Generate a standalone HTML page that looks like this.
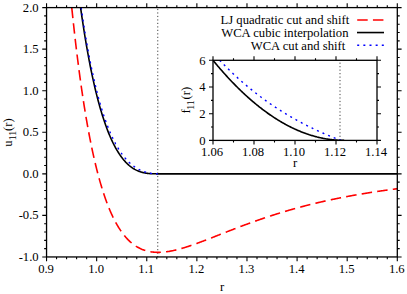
<!DOCTYPE html>
<html><head><meta charset="utf-8"><title>plot</title><style>html,body{margin:0;padding:0;background:#fff}svg{display:block}</style></head><body>
<svg width="407" height="294" viewBox="0 0 407 294">
<defs><clipPath id="cm"><rect x="46.55" y="7.60" width="350.75" height="249.35"/></clipPath>
<clipPath id="ci"><rect x="213.00" y="60.30" width="164.00" height="80.10"/></clipPath></defs>
<rect width="407" height="294" fill="#fff"/>
<g clip-path="url(#cm)" fill="none">
<line x1="157.75" y1="8.9" x2="157.75" y2="256.95" stroke="#444" stroke-width="1" stroke-dasharray="1.2 2.28"/>
<path d="M71.76,7.60 L72.10,10.89 L72.61,15.68 L73.11,20.39 L73.61,25.02 L74.11,29.57 L74.61,34.03 L75.11,38.42 L75.61,42.74 L76.11,46.98 L76.61,51.14 L77.12,55.24 L77.62,59.26 L78.12,63.21 L78.62,67.09 L79.12,70.91 L79.62,74.66 L80.12,78.34 L80.62,81.96 L81.12,85.51 L81.62,89.00 L82.13,92.43 L82.63,95.80 L83.13,99.11 L83.63,102.36 L84.13,105.55 L84.63,108.69 L85.13,111.77 L85.63,114.79 L86.13,117.76 L86.64,120.68 L87.14,123.55 L87.64,126.36 L88.14,129.12 L88.64,131.84 L89.14,134.50 L89.64,137.12 L90.14,139.68 L90.64,142.21 L91.15,144.68 L91.65,147.11 L92.15,149.50 L92.65,151.84 L93.15,154.14 L93.65,156.39 L94.15,158.61 L94.65,160.78 L95.15,162.91 L95.65,165.00 L96.16,167.06 L96.66,169.07 L97.16,171.05 L97.66,172.99 L98.16,174.89 L98.66,176.76 L99.16,178.59 L99.66,180.39 L100.16,182.15 L100.67,183.88 L101.17,185.58 L101.67,187.24 L102.17,188.87 L102.67,190.47 L103.17,192.03 L103.67,193.57 L104.17,195.08 L104.67,196.55 L105.18,198.00 L105.68,199.42 L106.18,200.81 L106.68,202.17 L107.18,203.51 L107.68,204.82 L108.18,206.10 L108.68,207.35 L109.18,208.58 L109.69,209.79 L110.19,210.97 L110.69,212.12 L111.19,213.26 L111.69,214.36 L112.19,215.45 L112.69,216.51 L113.19,217.55 L113.69,218.57 L114.19,219.56 L114.70,220.53 L115.20,221.49 L115.70,222.42 L116.20,223.33 L116.70,224.22 L117.20,225.09 L117.70,225.95 L118.20,226.78 L118.70,227.59 L119.21,228.39 L119.71,229.17 L120.21,229.93 L120.71,230.67 L121.21,231.39 L121.71,232.10 L122.21,232.79 L122.71,233.47 L123.21,234.13 L123.72,234.77 L124.22,235.40 L124.72,236.01 L125.22,236.60 L125.72,237.18 L126.22,237.75 L126.72,238.30 L127.22,238.84 L127.72,239.37 L128.22,239.88 L128.73,240.37 L129.23,240.86 L129.73,241.33 L130.23,241.79 L130.73,242.23 L131.23,242.66 L131.73,243.08 L132.23,243.49 L132.73,243.89 L133.24,244.28 L133.74,244.65 L134.24,245.01 L134.74,245.36 L135.24,245.71 L135.74,246.04 L136.24,246.36 L136.74,246.66 L137.24,246.96 L137.75,247.25 L138.25,247.53 L138.75,247.80 L139.25,248.06 L139.75,248.32 L140.25,248.56 L140.75,248.79 L141.25,249.02 L141.75,249.23 L142.25,249.44 L142.76,249.64 L143.26,249.83 L143.76,250.01 L144.26,250.19 L144.76,250.35 L145.26,250.51 L145.76,250.66 L146.26,250.81 L146.76,250.94 L147.27,251.07 L147.77,251.20 L148.27,251.31 L148.77,251.42 L149.27,251.52 L149.77,251.62 L150.27,251.71 L150.77,251.79 L151.27,251.87 L151.78,251.94 L152.28,252.01 L152.78,252.07 L153.28,252.12 L153.78,252.17 L154.28,252.21 L154.78,252.25 L155.28,252.28 L155.78,252.30 L156.28,252.32 L156.79,252.34 L157.29,252.35 L157.79,252.36 L158.29,252.36 L158.79,252.36 L159.29,252.35 L159.79,252.33 L160.29,252.32 L160.79,252.30 L161.30,252.27 L161.80,252.24 L162.30,252.21 L162.80,252.17 L163.30,252.13 L163.80,252.08 L164.30,252.03 L164.80,251.98 L165.30,251.92 L165.81,251.86 L166.31,251.80 L166.81,251.73 L167.31,251.66 L167.81,251.58 L168.31,251.51 L168.81,251.42 L169.31,251.34 L169.81,251.25 L170.31,251.16 L170.82,251.07 L171.32,250.98 L171.82,250.88 L172.32,250.78 L172.82,250.67 L173.32,250.56 L173.82,250.46 L174.32,250.34 L174.82,250.23 L175.33,250.11 L175.83,249.99 L176.33,249.87 L176.83,249.75 L177.33,249.62 L177.83,249.49 L178.33,249.36 L178.83,249.23 L179.33,249.10 L179.83,248.96 L180.34,248.82 L180.84,248.68 L181.34,248.54 L181.84,248.39 L182.34,248.25 L182.84,248.10 L183.34,247.95 L183.84,247.80 L184.34,247.65 L184.85,247.49 L185.35,247.34 L185.85,247.18 L186.35,247.02 L186.85,246.86 L187.35,246.70 L187.85,246.54 L188.35,246.37 L188.85,246.21 L189.36,246.04 L189.86,245.87 L190.36,245.71 L190.86,245.54 L191.36,245.36 L191.86,245.19 L192.36,245.02 L192.86,244.84 L193.36,244.67 L193.86,244.49 L194.37,244.31 L194.87,244.14 L195.37,243.96 L195.87,243.78 L196.37,243.59 L196.87,243.41 L197.37,243.23 L197.87,243.05 L198.37,242.86 L198.88,242.68 L199.38,242.49 L199.88,242.31 L200.38,242.12 L200.88,241.93 L201.38,241.74 L201.88,241.55 L202.38,241.37 L202.88,241.18 L203.39,240.99 L203.89,240.79 L204.39,240.60 L204.89,240.41 L205.39,240.22 L205.89,240.03 L206.39,239.83 L206.89,239.64 L207.39,239.45 L207.89,239.25 L208.40,239.06 L208.90,238.86 L209.40,238.67 L209.90,238.47 L210.40,238.28 L210.90,238.08 L211.40,237.89 L211.90,237.69 L212.40,237.49 L212.91,237.30 L213.41,237.10 L213.91,236.90 L214.41,236.71 L214.91,236.51 L215.41,236.31 L215.91,236.12 L216.41,235.92 L216.91,235.72 L217.42,235.52 L217.92,235.33 L218.42,235.13 L218.92,234.93 L219.42,234.73 L219.92,234.54 L220.42,234.34 L220.92,234.14 L221.42,233.94 L221.92,233.75 L222.43,233.55 L222.93,233.35 L223.43,233.15 L223.93,232.96 L224.43,232.76 L224.93,232.56 L225.43,232.37 L225.93,232.17 L226.43,231.97 L226.94,231.78 L227.44,231.58 L227.94,231.38 L228.44,231.19 L228.94,230.99 L229.44,230.80 L229.94,230.60 L230.44,230.41 L230.94,230.21 L231.45,230.02 L231.95,229.82 L232.45,229.63 L232.95,229.44 L233.45,229.24 L233.95,229.05 L234.45,228.85 L234.95,228.66 L235.45,228.47 L235.95,228.28 L236.46,228.09 L236.96,227.89 L237.46,227.70 L237.96,227.51 L238.46,227.32 L238.96,227.13 L239.46,226.94 L239.96,226.75 L240.46,226.56 L240.97,226.37 L241.47,226.18 L241.97,225.99 L242.47,225.81 L242.97,225.62 L243.47,225.43 L243.97,225.24 L244.47,225.06 L244.97,224.87 L245.48,224.69 L245.98,224.50 L246.48,224.31 L246.98,224.13 L247.48,223.95 L247.98,223.76 L248.48,223.58 L248.98,223.40 L249.48,223.21 L249.98,223.03 L250.49,222.85 L250.99,222.67 L251.49,222.49 L251.99,222.31 L252.49,222.13 L252.99,221.95 L253.49,221.77 L253.99,221.59 L254.49,221.41 L255.00,221.23 L255.50,221.05 L256.00,220.88 L256.50,220.70 L257.00,220.52 L257.50,220.35 L258.00,220.17 L258.50,220.00 L259.00,219.82 L259.51,219.65 L260.01,219.48 L260.51,219.30 L261.01,219.13 L261.51,218.96 L262.01,218.79 L262.51,218.62 L263.01,218.45 L263.51,218.27 L264.01,218.11 L264.52,217.94 L265.02,217.77 L265.52,217.60 L266.02,217.43 L266.52,217.26 L267.02,217.10 L267.52,216.93 L268.02,216.77 L268.52,216.60 L269.03,216.43 L269.53,216.27 L270.03,216.11 L270.53,215.94 L271.03,215.78 L271.53,215.62 L272.03,215.46 L272.53,215.29 L273.03,215.13 L273.54,214.97 L274.04,214.81 L274.54,214.65 L275.04,214.49 L275.54,214.34 L276.04,214.18 L276.54,214.02 L277.04,213.86 L277.54,213.71 L278.05,213.55 L278.55,213.40 L279.05,213.24 L279.55,213.09 L280.05,212.93 L280.55,212.78 L281.05,212.63 L281.55,212.47 L282.05,212.32 L282.55,212.17 L283.06,212.02 L283.56,211.87 L284.06,211.72 L284.56,211.57 L285.06,211.42 L285.56,211.27 L286.06,211.12 L286.56,210.97 L287.06,210.83 L287.57,210.68 L288.07,210.53 L288.57,210.39 L289.07,210.24 L289.57,210.10 L290.07,209.95 L290.57,209.81 L291.07,209.67 L291.57,209.52 L292.08,209.38 L292.58,209.24 L293.08,209.10 L293.58,208.96 L294.08,208.82 L294.58,208.68 L295.08,208.54 L295.58,208.40 L296.08,208.26 L296.58,208.12 L297.09,207.99 L297.59,207.85 L298.09,207.71 L298.59,207.58 L299.09,207.44 L299.59,207.31 L300.09,207.17 L300.59,207.04 L301.09,206.90 L301.60,206.77 L302.10,206.64 L302.60,206.51 L303.10,206.38 L303.60,206.24 L304.10,206.11 L304.60,205.98 L305.10,205.85 L305.60,205.72 L306.11,205.59 L306.61,205.47 L307.11,205.34 L307.61,205.21 L308.11,205.08 L308.61,204.96 L309.11,204.83 L309.61,204.71 L310.11,204.58 L310.61,204.46 L311.12,204.33 L311.62,204.21 L312.12,204.08 L312.62,203.96 L313.12,203.84 L313.62,203.72 L314.12,203.60 L314.62,203.47 L315.12,203.35 L315.63,203.23 L316.13,203.11 L316.63,202.99 L317.13,202.88 L317.63,202.76 L318.13,202.64 L318.63,202.52 L319.13,202.40 L319.63,202.29 L320.14,202.17 L320.64,202.06 L321.14,201.94 L321.64,201.83 L322.14,201.71 L322.64,201.60 L323.14,201.48 L323.64,201.37 L324.14,201.26 L324.64,201.15 L325.15,201.03 L325.65,200.92 L326.15,200.81 L326.65,200.70 L327.15,200.59 L327.65,200.48 L328.15,200.37 L328.65,200.26 L329.15,200.15 L329.66,200.04 L330.16,199.94 L330.66,199.83 L331.16,199.72 L331.66,199.62 L332.16,199.51 L332.66,199.40 L333.16,199.30 L333.66,199.19 L334.17,199.09 L334.67,198.99 L335.17,198.88 L335.67,198.78 L336.17,198.68 L336.67,198.57 L337.17,198.47 L337.67,198.37 L338.17,198.27 L338.67,198.17 L339.18,198.07 L339.68,197.97 L340.18,197.87 L340.68,197.77 L341.18,197.67 L341.68,197.57 L342.18,197.47 L342.68,197.37 L343.18,197.28 L343.69,197.18 L344.19,197.08 L344.69,196.99 L345.19,196.89 L345.69,196.79 L346.19,196.70 L346.69,196.60 L347.19,196.51 L347.69,196.42 L348.19,196.32 L348.70,196.23 L349.20,196.13 L349.70,196.04 L350.20,195.95 L350.70,195.86 L351.20,195.77 L351.70,195.68 L352.20,195.58 L352.70,195.49 L353.21,195.40 L353.71,195.31 L354.21,195.22 L354.71,195.14 L355.21,195.05 L355.71,194.96 L356.21,194.87 L356.71,194.78 L357.21,194.70 L357.72,194.61 L358.22,194.52 L358.72,194.44 L359.22,194.35 L359.72,194.26 L360.22,194.18 L360.72,194.09 L361.22,194.01 L361.72,193.92 L362.22,193.84 L362.73,193.76 L363.23,193.67 L363.73,193.59 L364.23,193.51 L364.73,193.43 L365.23,193.34 L365.73,193.26 L366.23,193.18 L366.73,193.10 L367.24,193.02 L367.74,192.94 L368.24,192.86 L368.74,192.78 L369.24,192.70 L369.74,192.62 L370.24,192.54 L370.74,192.46 L371.24,192.38 L371.75,192.31 L372.25,192.23 L372.75,192.15 L373.25,192.07 L373.75,192.00 L374.25,191.92 L374.75,191.85 L375.25,191.77 L375.75,191.69 L376.25,191.62 L376.76,191.54 L377.26,191.47 L377.76,191.40 L378.26,191.32 L378.76,191.25 L379.26,191.17 L379.76,191.10 L380.26,191.03 L380.76,190.96 L381.27,190.88 L381.77,190.81 L382.27,190.74 L382.77,190.67 L383.27,190.60 L383.77,190.53 L384.27,190.46 L384.77,190.39 L385.27,190.32 L385.78,190.25 L386.28,190.18 L386.78,190.11 L387.28,190.04 L387.78,189.97 L388.28,189.90 L388.78,189.84 L389.28,189.77 L389.78,189.70 L390.29,189.63 L390.79,189.57 L391.29,189.50 L391.79,189.43 L392.29,189.37 L392.79,189.30 L393.29,189.24 L393.79,189.17 L394.29,189.11 L394.79,189.04 L395.30,188.98 L395.80,188.91 L396.30,188.85 L396.80,188.78 L397.30,188.72" stroke="#f00" stroke-width="1.6" stroke-dasharray="10.5 5.23"/>
<path d="M80.60,7.60 L80.62,7.80 L81.12,11.35 L81.62,14.84 L82.13,18.27 L82.63,21.64 L83.13,24.94 L83.63,28.19 L84.13,31.39 L84.63,34.52 L85.13,37.60 L85.63,40.62 L86.13,43.59 L86.64,46.51 L87.14,49.37 L87.64,52.18 L88.14,54.95 L88.64,57.66 L89.14,60.32 L89.64,62.94 L90.14,65.50 L90.64,68.02 L91.15,70.50 L91.65,72.92 L92.15,75.31 L92.65,77.65 L93.15,79.95 L93.65,82.20 L94.15,84.41 L94.65,86.59 L95.15,88.72 L95.65,90.81 L96.16,92.86 L96.66,94.87 L97.16,96.85 L97.66,98.79 L98.16,100.69 L98.66,102.56 L99.16,104.39 L99.66,106.18 L100.16,107.94 L100.67,109.67 L101.17,111.36 L101.67,113.03 L102.17,114.65 L102.67,116.25 L103.17,117.82 L103.67,119.35 L104.17,120.86 L104.67,122.33 L105.18,123.78 L105.68,125.20 L106.18,126.59 L106.68,127.95 L107.18,129.28 L107.68,130.59 L108.18,131.87 L108.68,133.12 L109.18,134.35 L109.69,135.56 L110.19,136.73 L110.69,137.89 L111.19,139.02 L111.69,140.12 L112.19,141.19 L112.69,142.23 L113.19,143.25 L113.69,144.25 L114.19,145.22 L114.70,146.18 L115.20,147.11 L115.70,148.02 L116.20,148.91 L116.70,149.78 L117.20,150.63 L117.70,151.46 L118.20,152.27 L118.70,153.05 L119.21,153.82 L119.71,154.57 L120.21,155.31 L120.71,156.02 L121.21,156.71 L121.71,157.39 L122.21,158.05 L122.71,158.69 L123.21,159.31 L123.72,159.91 L124.22,160.50 L124.72,161.07 L125.22,161.63 L125.72,162.17 L126.22,162.69 L126.72,163.19 L127.22,163.69 L127.72,164.16 L128.22,164.62 L128.73,165.07 L129.23,165.50 L129.73,165.91 L130.23,166.32 L130.73,166.71 L131.23,167.08 L131.73,167.44 L132.23,167.79 L132.73,168.13 L133.24,168.45 L133.74,168.76 L134.24,169.06 L134.74,169.35 L135.24,169.62 L135.74,169.88 L136.24,170.14 L136.74,170.38 L137.24,170.61 L137.75,170.83 L138.25,171.04 L138.75,171.24 L139.25,171.43 L139.75,171.61 L140.25,171.78 L140.75,171.94 L141.25,172.09 L141.75,172.24 L142.25,172.37 L142.76,172.50 L143.26,172.62 L143.76,172.74 L144.26,172.84 L144.76,172.94 L145.26,173.03 L145.76,173.12 L146.26,173.20 L146.76,173.27 L147.27,173.34 L147.77,173.40 L148.27,173.46 L148.77,173.51 L149.27,173.55 L149.77,173.60 L150.27,173.63 L150.77,173.67 L151.27,173.70 L151.78,173.72 L152.28,173.74 L152.78,173.76 L153.28,173.78 L153.78,173.79 L154.28,173.80 L154.78,173.81 L155.28,173.82 L155.78,173.82 L156.28,173.83 L156.79,173.83 L157.29,173.83 L157.79,173.83 L158.29,173.83 L158.79,173.83 L159.29,173.83 L159.79,173.83 L160.29,173.83 L160.79,173.83 L161.30,173.83 L161.80,173.83 L162.30,173.83 L162.80,173.83 L163.30,173.83 L163.80,173.83 L164.30,173.83 L164.80,173.83 L165.30,173.83 L165.81,173.83 L166.31,173.83 L166.81,173.83 L167.31,173.83 L167.81,173.83 L168.31,173.83 L168.81,173.83 L169.31,173.83 L169.81,173.83 L170.31,173.83 L170.82,173.83 L171.32,173.83 L171.82,173.83 L172.32,173.83 L172.82,173.83 L173.32,173.83 L173.82,173.83 L174.32,173.83 L174.82,173.83 L175.33,173.83 L175.83,173.83 L176.33,173.83 L176.83,173.83 L177.33,173.83 L177.83,173.83 L178.33,173.83 L178.83,173.83 L179.33,173.83 L179.83,173.83 L180.34,173.83 L180.84,173.83 L181.34,173.83 L181.84,173.83 L182.34,173.83 L182.84,173.83 L183.34,173.83 L183.84,173.83 L184.34,173.83 L184.85,173.83 L185.35,173.83 L185.85,173.83 L186.35,173.83 L186.85,173.83 L187.35,173.83 L187.85,173.83 L188.35,173.83 L188.85,173.83 L189.36,173.83 L189.86,173.83 L190.36,173.83 L190.86,173.83 L191.36,173.83 L191.86,173.83 L192.36,173.83 L192.86,173.83 L193.36,173.83 L193.86,173.83 L194.37,173.83 L194.87,173.83 L195.37,173.83 L195.87,173.83 L196.37,173.83 L196.87,173.83 L197.37,173.83 L197.87,173.83 L198.37,173.83 L198.88,173.83 L199.38,173.83 L199.88,173.83 L200.38,173.83 L200.88,173.83 L201.38,173.83 L201.88,173.83 L202.38,173.83 L202.88,173.83 L203.39,173.83 L203.89,173.83 L204.39,173.83 L204.89,173.83 L205.39,173.83 L205.89,173.83 L206.39,173.83 L206.89,173.83 L207.39,173.83 L207.89,173.83 L208.40,173.83 L208.90,173.83 L209.40,173.83 L209.90,173.83 L210.40,173.83 L210.90,173.83 L211.40,173.83 L211.90,173.83 L212.40,173.83 L212.91,173.83 L213.41,173.83 L213.91,173.83 L214.41,173.83 L214.91,173.83 L215.41,173.83 L215.91,173.83 L216.41,173.83 L216.91,173.83 L217.42,173.83 L217.92,173.83 L218.42,173.83 L218.92,173.83 L219.42,173.83 L219.92,173.83 L220.42,173.83 L220.92,173.83 L221.42,173.83 L221.92,173.83 L222.43,173.83 L222.93,173.83 L223.43,173.83 L223.93,173.83 L224.43,173.83 L224.93,173.83 L225.43,173.83 L225.93,173.83 L226.43,173.83 L226.94,173.83 L227.44,173.83 L227.94,173.83 L228.44,173.83 L228.94,173.83 L229.44,173.83 L229.94,173.83 L230.44,173.83 L230.94,173.83 L231.45,173.83 L231.95,173.83 L232.45,173.83 L232.95,173.83 L233.45,173.83 L233.95,173.83 L234.45,173.83 L234.95,173.83 L235.45,173.83 L235.95,173.83 L236.46,173.83 L236.96,173.83 L237.46,173.83 L237.96,173.83 L238.46,173.83 L238.96,173.83 L239.46,173.83 L239.96,173.83 L240.46,173.83 L240.97,173.83 L241.47,173.83 L241.97,173.83 L242.47,173.83 L242.97,173.83 L243.47,173.83 L243.97,173.83 L244.47,173.83 L244.97,173.83 L245.48,173.83 L245.98,173.83 L246.48,173.83 L246.98,173.83 L247.48,173.83 L247.98,173.83 L248.48,173.83 L248.98,173.83 L249.48,173.83 L249.98,173.83 L250.49,173.83 L250.99,173.83 L251.49,173.83 L251.99,173.83 L252.49,173.83 L252.99,173.83 L253.49,173.83 L253.99,173.83 L254.49,173.83 L255.00,173.83 L255.50,173.83 L256.00,173.83 L256.50,173.83 L257.00,173.83 L257.50,173.83 L258.00,173.83 L258.50,173.83 L259.00,173.83 L259.51,173.83 L260.01,173.83 L260.51,173.83 L261.01,173.83 L261.51,173.83 L262.01,173.83 L262.51,173.83 L263.01,173.83 L263.51,173.83 L264.01,173.83 L264.52,173.83 L265.02,173.83 L265.52,173.83 L266.02,173.83 L266.52,173.83 L267.02,173.83 L267.52,173.83 L268.02,173.83 L268.52,173.83 L269.03,173.83 L269.53,173.83 L270.03,173.83 L270.53,173.83 L271.03,173.83 L271.53,173.83 L272.03,173.83 L272.53,173.83 L273.03,173.83 L273.54,173.83 L274.04,173.83 L274.54,173.83 L275.04,173.83 L275.54,173.83 L276.04,173.83 L276.54,173.83 L277.04,173.83 L277.54,173.83 L278.05,173.83 L278.55,173.83 L279.05,173.83 L279.55,173.83 L280.05,173.83 L280.55,173.83 L281.05,173.83 L281.55,173.83 L282.05,173.83 L282.55,173.83 L283.06,173.83 L283.56,173.83 L284.06,173.83 L284.56,173.83 L285.06,173.83 L285.56,173.83 L286.06,173.83 L286.56,173.83 L287.06,173.83 L287.57,173.83 L288.07,173.83 L288.57,173.83 L289.07,173.83 L289.57,173.83 L290.07,173.83 L290.57,173.83 L291.07,173.83 L291.57,173.83 L292.08,173.83 L292.58,173.83 L293.08,173.83 L293.58,173.83 L294.08,173.83 L294.58,173.83 L295.08,173.83 L295.58,173.83 L296.08,173.83 L296.58,173.83 L297.09,173.83 L297.59,173.83 L298.09,173.83 L298.59,173.83 L299.09,173.83 L299.59,173.83 L300.09,173.83 L300.59,173.83 L301.09,173.83 L301.60,173.83 L302.10,173.83 L302.60,173.83 L303.10,173.83 L303.60,173.83 L304.10,173.83 L304.60,173.83 L305.10,173.83 L305.60,173.83 L306.11,173.83 L306.61,173.83 L307.11,173.83 L307.61,173.83 L308.11,173.83 L308.61,173.83 L309.11,173.83 L309.61,173.83 L310.11,173.83 L310.61,173.83 L311.12,173.83 L311.62,173.83 L312.12,173.83 L312.62,173.83 L313.12,173.83 L313.62,173.83 L314.12,173.83 L314.62,173.83 L315.12,173.83 L315.63,173.83 L316.13,173.83 L316.63,173.83 L317.13,173.83 L317.63,173.83 L318.13,173.83 L318.63,173.83 L319.13,173.83 L319.63,173.83 L320.14,173.83 L320.64,173.83 L321.14,173.83 L321.64,173.83 L322.14,173.83 L322.64,173.83 L323.14,173.83 L323.64,173.83 L324.14,173.83 L324.64,173.83 L325.15,173.83 L325.65,173.83 L326.15,173.83 L326.65,173.83 L327.15,173.83 L327.65,173.83 L328.15,173.83 L328.65,173.83 L329.15,173.83 L329.66,173.83 L330.16,173.83 L330.66,173.83 L331.16,173.83 L331.66,173.83 L332.16,173.83 L332.66,173.83 L333.16,173.83 L333.66,173.83 L334.17,173.83 L334.67,173.83 L335.17,173.83 L335.67,173.83 L336.17,173.83 L336.67,173.83 L337.17,173.83 L337.67,173.83 L338.17,173.83 L338.67,173.83 L339.18,173.83 L339.68,173.83 L340.18,173.83 L340.68,173.83 L341.18,173.83 L341.68,173.83 L342.18,173.83 L342.68,173.83 L343.18,173.83 L343.69,173.83 L344.19,173.83 L344.69,173.83 L345.19,173.83 L345.69,173.83 L346.19,173.83 L346.69,173.83 L347.19,173.83 L347.69,173.83 L348.19,173.83 L348.70,173.83 L349.20,173.83 L349.70,173.83 L350.20,173.83 L350.70,173.83 L351.20,173.83 L351.70,173.83 L352.20,173.83 L352.70,173.83 L353.21,173.83 L353.71,173.83 L354.21,173.83 L354.71,173.83 L355.21,173.83 L355.71,173.83 L356.21,173.83 L356.71,173.83 L357.21,173.83 L357.72,173.83 L358.22,173.83 L358.72,173.83 L359.22,173.83 L359.72,173.83 L360.22,173.83 L360.72,173.83 L361.22,173.83 L361.72,173.83 L362.22,173.83 L362.73,173.83 L363.23,173.83 L363.73,173.83 L364.23,173.83 L364.73,173.83 L365.23,173.83 L365.73,173.83 L366.23,173.83 L366.73,173.83 L367.24,173.83 L367.74,173.83 L368.24,173.83 L368.74,173.83 L369.24,173.83 L369.74,173.83 L370.24,173.83 L370.74,173.83 L371.24,173.83 L371.75,173.83 L372.25,173.83 L372.75,173.83 L373.25,173.83 L373.75,173.83 L374.25,173.83 L374.75,173.83 L375.25,173.83 L375.75,173.83 L376.25,173.83 L376.76,173.83 L377.26,173.83 L377.76,173.83 L378.26,173.83 L378.76,173.83 L379.26,173.83 L379.76,173.83 L380.26,173.83 L380.76,173.83 L381.27,173.83 L381.77,173.83 L382.27,173.83 L382.77,173.83 L383.27,173.83 L383.77,173.83 L384.27,173.83 L384.77,173.83 L385.27,173.83 L385.78,173.83 L386.28,173.83 L386.78,173.83 L387.28,173.83 L387.78,173.83 L388.28,173.83 L388.78,173.83 L389.28,173.83 L389.78,173.83 L390.29,173.83 L390.79,173.83 L391.29,173.83 L391.79,173.83 L392.29,173.83 L392.79,173.83 L393.29,173.83 L393.79,173.83 L394.29,173.83 L394.79,173.83 L395.30,173.83 L395.80,173.83 L396.30,173.83 L396.80,173.83 L397.30,173.83" stroke="#000" stroke-width="1.6"/>
<path d="M81.18,7.60 L81.19,7.67 L81.47,9.62 L81.75,11.55 L82.03,13.46 L82.31,15.35 L82.59,17.22 L82.87,19.08 L83.15,20.91 L83.43,22.73 L83.71,24.53 L83.99,26.31 L84.27,28.08 L84.54,29.82 L84.82,31.55 L85.10,33.26 L85.38,34.96 L85.66,36.63 L85.94,38.30 L86.22,39.94 L86.50,41.57 L86.78,43.18 L87.06,44.77 L87.34,46.35 L87.62,47.91 L87.90,49.46 L88.18,50.99 L88.46,52.51 L88.74,54.01 L89.01,55.50 L89.29,56.97 L89.57,58.42 L89.85,59.86 L90.13,61.29 L90.41,62.70 L90.69,64.10 L90.97,65.48 L91.25,66.85 L91.53,68.20 L91.81,69.54 L92.09,70.87 L92.37,72.18 L92.65,73.48 L92.93,74.77 L93.21,76.04 L93.48,77.30 L93.76,78.55 L94.04,79.78 L94.32,81.00 L94.60,82.21 L94.88,83.40 L95.16,84.59 L95.44,85.76 L95.72,86.92 L96.00,88.06 L96.28,89.20 L96.56,90.32 L96.84,91.43 L97.12,92.53 L97.40,93.62 L97.68,94.69 L97.95,95.76 L98.23,96.81 L98.51,97.85 L98.79,98.88 L99.07,99.90 L99.35,100.91 L99.63,101.91 L99.91,102.90 L100.19,103.87 L100.47,104.84 L100.75,105.79 L101.03,106.74 L101.31,107.67 L101.59,108.60 L101.87,109.51 L102.15,110.42 L102.42,111.32 L102.70,112.20 L102.98,113.08 L103.26,113.94 L103.54,114.80 L103.82,115.65 L104.10,116.48 L104.38,117.31 L104.66,118.13 L104.94,118.94 L105.22,119.74 L105.50,120.54 L105.78,121.32 L106.06,122.09 L106.34,122.86 L106.61,123.62 L106.89,124.37 L107.17,125.11 L107.45,125.84 L107.73,126.56 L108.01,127.28 L108.29,127.99 L108.57,128.69 L108.85,129.38 L109.13,130.06 L109.41,130.74 L109.69,131.40 L109.97,132.06 L110.25,132.72 L110.53,133.36 L110.81,134.00 L111.08,134.63 L111.36,135.25 L111.64,135.87 L111.92,136.47 L112.20,137.08 L112.48,137.67 L112.76,138.26 L113.04,138.84 L113.32,139.41 L113.60,139.97 L113.88,140.53 L114.16,141.09 L114.44,141.63 L114.72,142.17 L115.00,142.70 L115.28,143.23 L115.55,143.75 L115.83,144.26 L116.11,144.77 L116.39,145.27 L116.67,145.76 L116.95,146.25 L117.23,146.73 L117.51,147.21 L117.79,147.68 L118.07,148.14 L118.35,148.60 L118.63,149.06 L118.91,149.50 L119.19,149.94 L119.47,150.38 L119.75,150.81 L120.02,151.23 L120.30,151.65 L120.58,152.07 L120.86,152.47 L121.14,152.88 L121.42,153.27 L121.70,153.67 L121.98,154.05 L122.26,154.43 L122.54,154.81 L122.82,155.18 L123.10,155.55 L123.38,155.91 L123.66,156.27 L123.94,156.62 L124.22,156.96 L124.49,157.31 L124.77,157.64 L125.05,157.98 L125.33,158.30 L125.61,158.63 L125.89,158.95 L126.17,159.26 L126.45,159.57 L126.73,159.88 L127.01,160.18 L127.29,160.47 L127.57,160.77 L127.85,161.05 L128.13,161.34 L128.41,161.62 L128.69,161.89 L128.96,162.16 L129.24,162.43 L129.52,162.69 L129.80,162.95 L130.08,163.21 L130.36,163.46 L130.64,163.71 L130.92,163.95 L131.20,164.19 L131.48,164.42 L131.76,164.66 L132.04,164.88 L132.32,165.11 L132.60,165.33 L132.88,165.55 L133.16,165.76 L133.43,165.97 L133.71,166.18 L133.99,166.38 L134.27,166.58 L134.55,166.78 L134.83,166.97 L135.11,167.16 L135.39,167.34 L135.67,167.53 L135.95,167.71 L136.23,167.88 L136.51,168.06 L136.79,168.23 L137.07,168.39 L137.35,168.56 L137.63,168.72 L137.90,168.88 L138.18,169.03 L138.46,169.18 L138.74,169.33 L139.02,169.48 L139.30,169.62 L139.58,169.76 L139.86,169.90 L140.14,170.03 L140.42,170.16 L140.70,170.29 L140.98,170.42 L141.26,170.54 L141.54,170.66 L141.82,170.78 L142.10,170.89 L142.37,171.01 L142.65,171.12 L142.93,171.22 L143.21,171.33 L143.49,171.43 L143.77,171.53 L144.05,171.63 L144.33,171.72 L144.61,171.82 L144.89,171.91 L145.17,171.99 L145.45,172.08 L145.73,172.16 L146.01,172.24 L146.29,172.32 L146.57,172.40 L146.84,172.47 L147.12,172.54 L147.40,172.61 L147.68,172.68 L147.96,172.75 L148.24,172.81 L148.52,172.87 L148.80,172.93 L149.08,172.99 L149.36,173.04 L149.64,173.09 L149.92,173.15 L150.20,173.19 L150.48,173.24 L150.76,173.29 L151.04,173.33 L151.31,173.37 L151.59,173.41 L151.87,173.45 L152.15,173.48 L152.43,173.52 L152.71,173.55 L152.99,173.58 L153.27,173.61 L153.55,173.63 L153.83,173.66 L154.11,173.68 L154.39,173.70 L154.67,173.72 L154.95,173.74 L155.23,173.76 L155.51,173.77 L155.78,173.78 L156.06,173.80 L156.34,173.81 L156.62,173.81 L156.90,173.82 L157.18,173.83 L157.46,173.83 L157.74,173.83 L158.02,173.83" stroke="#0000ff" stroke-width="1.4" stroke-dasharray="2 4.07" stroke-dashoffset="0.1"/>
</g>
<g stroke="#000" stroke-width="1.1" fill="none">
<rect x="46.55" y="7.60" width="350.75" height="249.35" stroke-width="1.3"/>
<path d="M46.55,256.95v4.30 M46.55,7.60v-4.30 M56.57,256.95v2.40 M56.57,7.60v-2.40 M66.59,256.95v2.40 M66.59,7.60v-2.40 M76.61,256.95v2.40 M76.61,7.60v-2.40 M86.64,256.95v2.40 M86.64,7.60v-2.40 M96.66,256.95v4.30 M96.66,7.60v-4.30 M106.68,256.95v2.40 M106.68,7.60v-2.40 M116.70,256.95v2.40 M116.70,7.60v-2.40 M126.72,256.95v2.40 M126.72,7.60v-2.40 M136.74,256.95v2.40 M136.74,7.60v-2.40 M146.76,256.95v4.30 M146.76,7.60v-4.30 M156.79,256.95v2.40 M156.79,7.60v-2.40 M166.81,256.95v2.40 M166.81,7.60v-2.40 M176.83,256.95v2.40 M176.83,7.60v-2.40 M186.85,256.95v2.40 M186.85,7.60v-2.40 M196.87,256.95v4.30 M196.87,7.60v-4.30 M206.89,256.95v2.40 M206.89,7.60v-2.40 M216.91,256.95v2.40 M216.91,7.60v-2.40 M226.94,256.95v2.40 M226.94,7.60v-2.40 M236.96,256.95v2.40 M236.96,7.60v-2.40 M246.98,256.95v4.30 M246.98,7.60v-4.30 M257.00,256.95v2.40 M257.00,7.60v-2.40 M267.02,256.95v2.40 M267.02,7.60v-2.40 M277.04,256.95v2.40 M277.04,7.60v-2.40 M287.06,256.95v2.40 M287.06,7.60v-2.40 M297.09,256.95v4.30 M297.09,7.60v-4.30 M307.11,256.95v2.40 M307.11,7.60v-2.40 M317.13,256.95v2.40 M317.13,7.60v-2.40 M327.15,256.95v2.40 M327.15,7.60v-2.40 M337.17,256.95v2.40 M337.17,7.60v-2.40 M347.19,256.95v4.30 M347.19,7.60v-4.30 M357.21,256.95v2.40 M357.21,7.60v-2.40 M367.24,256.95v2.40 M367.24,7.60v-2.40 M377.26,256.95v2.40 M377.26,7.60v-2.40 M387.28,256.95v2.40 M387.28,7.60v-2.40 M397.30,256.95v4.30 M397.30,7.60v-4.30 M46.55,256.95h-4.30 M397.30,256.95h4.30 M46.55,248.64h-2.40 M397.30,248.64h2.40 M46.55,240.33h-2.40 M397.30,240.33h2.40 M46.55,232.01h-2.40 M397.30,232.01h2.40 M46.55,223.70h-2.40 M397.30,223.70h2.40 M46.55,215.39h-4.30 M397.30,215.39h4.30 M46.55,207.08h-2.40 M397.30,207.08h2.40 M46.55,198.77h-2.40 M397.30,198.77h2.40 M46.55,190.46h-2.40 M397.30,190.46h2.40 M46.55,182.14h-2.40 M397.30,182.14h2.40 M46.55,173.83h-4.30 M397.30,173.83h4.30 M46.55,165.52h-2.40 M397.30,165.52h2.40 M46.55,157.21h-2.40 M397.30,157.21h2.40 M46.55,148.90h-2.40 M397.30,148.90h2.40 M46.55,140.59h-2.40 M397.30,140.59h2.40 M46.55,132.27h-4.30 M397.30,132.27h4.30 M46.55,123.96h-2.40 M397.30,123.96h2.40 M46.55,115.65h-2.40 M397.30,115.65h2.40 M46.55,107.34h-2.40 M397.30,107.34h2.40 M46.55,99.03h-2.40 M397.30,99.03h2.40 M46.55,90.72h-4.30 M397.30,90.72h4.30 M46.55,82.40h-2.40 M397.30,82.40h2.40 M46.55,74.09h-2.40 M397.30,74.09h2.40 M46.55,65.78h-2.40 M397.30,65.78h2.40 M46.55,57.47h-2.40 M397.30,57.47h2.40 M46.55,49.16h-4.30 M397.30,49.16h4.30 M46.55,40.85h-2.40 M397.30,40.85h2.40 M46.55,32.53h-2.40 M397.30,32.53h2.40 M46.55,24.22h-2.40 M397.30,24.22h2.40 M46.55,15.91h-2.40 M397.30,15.91h2.40 M46.55,7.60h-4.30 M397.30,7.60h4.30"/>
</g>
<rect x="213.00" y="60.30" width="164.00" height="80.10" fill="#fff"/>
<g clip-path="url(#ci)" fill="none">
<line x1="340" y1="62.6" x2="340" y2="140.40" stroke="#444" stroke-width="1" stroke-dasharray="1.2 2.28"/>
<path d="M202.75,47.30 L203.46,48.23 L204.17,49.16 L204.88,50.08 L205.59,51.00 L206.30,51.92 L207.01,52.83 L207.73,53.73 L208.44,54.63 L209.15,55.53 L209.86,56.42 L210.57,57.30 L211.28,58.19 L211.99,59.06 L212.70,59.93 L213.41,60.80 L214.12,61.67 L214.83,62.52 L215.54,63.38 L216.26,64.23 L216.97,65.07 L217.68,65.91 L218.39,66.74 L219.10,67.57 L219.81,68.40 L220.52,69.22 L221.23,70.03 L221.94,70.85 L222.65,71.65 L223.36,72.45 L224.07,73.25 L224.78,74.04 L225.50,74.83 L226.21,75.61 L226.92,76.39 L227.63,77.17 L228.34,77.93 L229.05,78.70 L229.76,79.46 L230.47,80.21 L231.18,80.96 L231.89,81.71 L232.60,82.45 L233.31,83.18 L234.03,83.92 L234.74,84.64 L235.45,85.36 L236.16,86.08 L236.87,86.79 L237.58,87.50 L238.29,88.20 L239.00,88.90 L239.71,89.60 L240.42,90.28 L241.13,90.97 L241.84,91.65 L242.56,92.32 L243.27,92.99 L243.98,93.66 L244.69,94.32 L245.40,94.98 L246.11,95.63 L246.82,96.27 L247.53,96.91 L248.24,97.55 L248.95,98.18 L249.66,98.81 L250.37,99.44 L251.08,100.05 L251.80,100.67 L252.51,101.28 L253.22,101.88 L253.93,102.48 L254.64,103.07 L255.35,103.66 L256.06,104.25 L256.77,104.83 L257.48,105.41 L258.19,105.98 L258.90,106.54 L259.61,107.11 L260.33,107.66 L261.04,108.22 L261.75,108.76 L262.46,109.31 L263.17,109.85 L263.88,110.38 L264.59,110.91 L265.30,111.43 L266.01,111.95 L266.72,112.47 L267.43,112.98 L268.14,113.48 L268.85,113.98 L269.57,114.48 L270.28,114.97 L270.99,115.46 L271.70,115.94 L272.41,116.42 L273.12,116.89 L273.83,117.36 L274.54,117.82 L275.25,118.28 L275.96,118.73 L276.67,119.18 L277.38,119.63 L278.10,120.07 L278.81,120.50 L279.52,120.93 L280.23,121.36 L280.94,121.78 L281.65,122.19 L282.36,122.60 L283.07,123.01 L283.78,123.41 L284.49,123.81 L285.20,124.20 L285.91,124.59 L286.62,124.97 L287.34,125.35 L288.05,125.73 L288.76,126.10 L289.47,126.46 L290.18,126.82 L290.89,127.18 L291.60,127.53 L292.31,127.87 L293.02,128.21 L293.73,128.55 L294.44,128.88 L295.15,129.21 L295.87,129.53 L296.58,129.85 L297.29,130.16 L298.00,130.47 L298.71,130.77 L299.42,131.07 L300.13,131.36 L300.84,131.65 L301.55,131.94 L302.26,132.22 L302.97,132.49 L303.68,132.76 L304.39,133.03 L305.11,133.29 L305.82,133.54 L306.53,133.80 L307.24,134.04 L307.95,134.28 L308.66,134.52 L309.37,134.76 L310.08,134.98 L310.79,135.21 L311.50,135.43 L312.21,135.64 L312.92,135.85 L313.64,136.05 L314.35,136.25 L315.06,136.45 L315.77,136.64 L316.48,136.82 L317.19,137.01 L317.90,137.18 L318.61,137.35 L319.32,137.52 L320.03,137.68 L320.74,137.84 L321.45,137.99 L322.17,138.14 L322.88,138.28 L323.59,138.42 L324.30,138.56 L325.01,138.69 L325.72,138.81 L326.43,138.93 L327.14,139.05 L327.85,139.16 L328.56,139.26 L329.27,139.36 L329.98,139.46 L330.69,139.55 L331.41,139.64 L332.12,139.72 L332.83,139.80 L333.54,139.87 L334.25,139.94 L334.96,140.00 L335.67,140.06 L336.38,140.12 L337.09,140.16 L337.80,140.21 L338.51,140.25 L339.22,140.28 L339.94,140.32 L340.65,140.34 L341.36,140.36 L342.07,140.38 L342.78,140.39 L343.49,140.40 L344.20,140.40" stroke="#000" stroke-width="1.6"/>
<path d="M219.70,60.30 L220.31,60.94 L220.92,61.58 L221.53,62.21 L222.14,62.84 L222.75,63.47 L223.36,64.09 L223.97,64.71 L224.58,65.33 L225.19,65.94 L225.80,66.56 L226.41,67.16 L227.02,67.77 L227.63,68.37 L228.24,68.97 L228.85,69.57 L229.46,70.16 L230.07,70.75 L230.68,71.34 L231.29,71.92 L231.90,72.51 L232.51,73.09 L233.12,73.66 L233.73,74.23 L234.34,74.80 L234.95,75.37 L235.56,75.94 L236.17,76.50 L236.78,77.06 L237.39,77.61 L238.00,78.17 L238.61,78.72 L239.22,79.26 L239.83,79.81 L240.44,80.35 L241.05,80.89 L241.66,81.43 L242.27,81.96 L242.88,82.49 L243.48,83.02 L244.09,83.55 L244.70,84.07 L245.31,84.59 L245.92,85.11 L246.53,85.63 L247.14,86.14 L247.75,86.65 L248.36,87.16 L248.97,87.66 L249.58,88.16 L250.19,88.66 L250.80,89.16 L251.41,89.66 L252.02,90.15 L252.63,90.64 L253.24,91.13 L253.85,91.61 L254.46,92.09 L255.07,92.57 L255.68,93.05 L256.29,93.53 L256.90,94.00 L257.51,94.47 L258.12,94.94 L258.73,95.40 L259.34,95.87 L259.95,96.33 L260.56,96.79 L261.17,97.24 L261.78,97.70 L262.39,98.15 L263.00,98.60 L263.61,99.04 L264.22,99.49 L264.83,99.93 L265.44,100.37 L266.05,100.81 L266.66,101.25 L267.27,101.68 L267.88,102.11 L268.49,102.54 L269.10,102.97 L269.70,103.39 L270.31,103.81 L270.92,104.23 L271.53,104.65 L272.14,105.07 L272.75,105.48 L273.36,105.89 L273.97,106.30 L274.58,106.71 L275.19,107.12 L275.80,107.52 L276.41,107.92 L277.02,108.32 L277.63,108.72 L278.24,109.11 L278.85,109.50 L279.46,109.89 L280.07,110.28 L280.68,110.67 L281.29,111.06 L281.90,111.44 L282.51,111.82 L283.12,112.20 L283.73,112.57 L284.34,112.95 L284.95,113.32 L285.56,113.69 L286.17,114.06 L286.78,114.43 L287.39,114.80 L288.00,115.16 L288.61,115.52 L289.22,115.88 L289.83,116.24 L290.44,116.59 L291.05,116.95 L291.66,117.30 L292.27,117.65 L292.88,118.00 L293.49,118.35 L294.10,118.69 L294.71,119.03 L295.31,119.37 L295.92,119.71 L296.53,120.05 L297.14,120.39 L297.75,120.72 L298.36,121.05 L298.97,121.39 L299.58,121.71 L300.19,122.04 L300.80,122.37 L301.41,122.69 L302.02,123.01 L302.63,123.33 L303.24,123.65 L303.85,123.97 L304.46,124.28 L305.07,124.60 L305.68,124.91 L306.29,125.22 L306.90,125.53 L307.51,125.83 L308.12,126.14 L308.73,126.44 L309.34,126.75 L309.95,127.05 L310.56,127.34 L311.17,127.64 L311.78,127.94 L312.39,128.23 L313.00,128.52 L313.61,128.82 L314.22,129.10 L314.83,129.39 L315.44,129.68 L316.05,129.96 L316.66,130.25 L317.27,130.53 L317.88,130.81 L318.49,131.09 L319.10,131.36 L319.71,131.64 L320.32,131.91 L320.92,132.19 L321.53,132.46 L322.14,132.73 L322.75,133.00 L323.36,133.26 L323.97,133.53 L324.58,133.79 L325.19,134.06 L325.80,134.32 L326.41,134.58 L327.02,134.83 L327.63,135.09 L328.24,135.35 L328.85,135.60 L329.46,135.85 L330.07,136.10 L330.68,136.35 L331.29,136.60 L331.90,136.85 L332.51,137.10 L333.12,137.34 L333.73,137.58 L334.34,137.83 L334.95,138.07 L335.56,138.31 L336.17,138.54 L336.78,138.78 L337.39,139.02 L338.00,139.25 L338.61,139.48 L339.22,139.71 L339.83,139.94 L340.44,140.17 L341.05,140.40" stroke="#0000ff" stroke-width="1.4" stroke-dasharray="2 4.04" stroke-dashoffset="0.1"/>
</g>
<g stroke="#000" stroke-width="1.1" fill="none">
<rect x="213.00" y="60.30" width="164.00" height="80.10" stroke-width="1.3"/>
<path d="M213.00,140.40v4.00 M213.00,60.30v-4.00 M233.50,140.40v2.00 M233.50,60.30v-2.00 M254.00,140.40v4.00 M254.00,60.30v-4.00 M274.50,140.40v2.00 M274.50,60.30v-2.00 M295.00,140.40v4.00 M295.00,60.30v-4.00 M315.50,140.40v2.00 M315.50,60.30v-2.00 M336.00,140.40v4.00 M336.00,60.30v-4.00 M356.50,140.40v2.00 M356.50,60.30v-2.00 M377.00,140.40v4.00 M377.00,60.30v-4.00 M213.00,140.40h-4.00 M377.00,140.40h4.00 M213.00,127.05h-2.00 M377.00,127.05h2.00 M213.00,113.70h-4.00 M377.00,113.70h4.00 M213.00,100.35h-2.00 M377.00,100.35h2.00 M213.00,87.00h-4.00 M377.00,87.00h4.00 M213.00,73.65h-2.00 M377.00,73.65h2.00 M213.00,60.30h-4.00 M377.00,60.30h4.00"/>
</g>
<g fill="none" stroke-width="1.6">
<path d="M357.2,20H384" stroke="#f00" stroke-dasharray="10.5 5.23"/>
<path d="M357,32.55H384" stroke="#000"/>
<path d="M357.2,45.25H384" stroke="#0000ff" stroke-width="1.4" stroke-dasharray="2 4.15"/>
</g>
<g fill="#000" font-family="'Liberation Serif', serif" font-size="12.66">
<text x="220.53" y="23.80">LJ quadratic cut and shift</text>
<text x="221.23" y="36.60">WCA cubic interpolation</text>
<text x="250.73" y="49.70">WCA cut and shift</text>
<text x="38.70" y="11.70" text-anchor="end">2.0</text>
<text x="38.70" y="53.26" text-anchor="end">1.5</text>
<text x="38.70" y="94.82" text-anchor="end">1.0</text>
<text x="38.70" y="136.37" text-anchor="end">0.5</text>
<text x="38.70" y="177.93" text-anchor="end">0.0</text>
<text x="38.70" y="219.49" text-anchor="end">-0.5</text>
<text x="38.70" y="261.05" text-anchor="end">-1.0</text>
<text x="46.05" y="272.80" text-anchor="middle">0.9</text>
<text x="96.16" y="272.80" text-anchor="middle">1.0</text>
<text x="146.26" y="272.80" text-anchor="middle">1.1</text>
<text x="196.37" y="272.80" text-anchor="middle">1.2</text>
<text x="246.48" y="272.80" text-anchor="middle">1.3</text>
<text x="296.59" y="272.80" text-anchor="middle">1.4</text>
<text x="346.69" y="272.80" text-anchor="middle">1.5</text>
<text x="396.80" y="272.80" text-anchor="middle">1.6</text>
<text x="222.00" y="291.10" text-anchor="middle">r</text>
<g transform="translate(12.30,146.80) rotate(-90)"><text x="0" y="0">u</text><text x="6.53" y="3.70" font-size="9.8">11</text><text x="15.83" y="0">(r)</text></g>
<text x="205.50" y="64.70" text-anchor="end">6</text>
<text x="205.50" y="91.40" text-anchor="end">4</text>
<text x="205.50" y="118.10" text-anchor="end">2</text>
<text x="205.50" y="144.80" text-anchor="end">0</text>
<text x="212.10" y="155.80" text-anchor="middle">1.06</text>
<text x="253.10" y="155.80" text-anchor="middle">1.08</text>
<text x="294.10" y="155.80" text-anchor="middle">1.10</text>
<text x="335.10" y="155.80" text-anchor="middle">1.12</text>
<text x="376.10" y="155.80" text-anchor="middle">1.14</text>
<text x="295.00" y="167.00" text-anchor="middle">r</text>
<g transform="translate(189.80,113.50) rotate(-90)"><text x="0" y="0">f</text><text x="3.76" y="4.00" font-size="9.8">11</text><text x="14.06" y="0">(r)</text></g>
</g>
</svg>
</body></html>
